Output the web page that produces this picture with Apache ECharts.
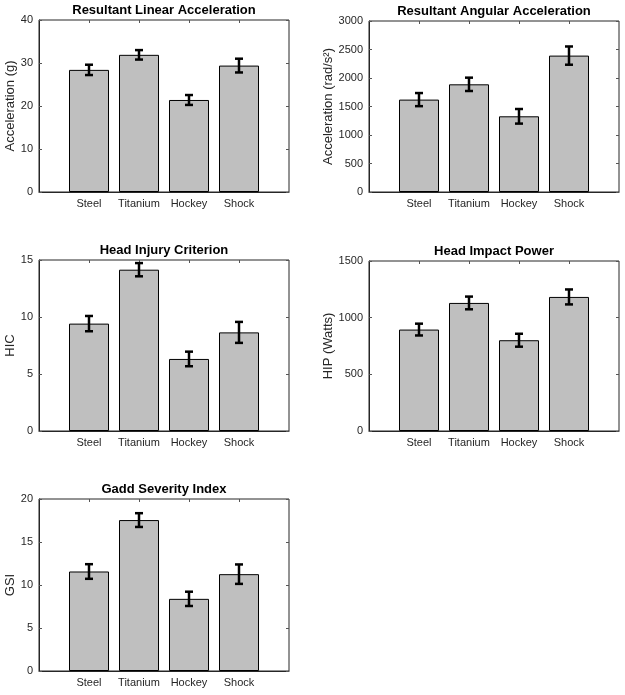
<!DOCTYPE html>
<html>
<head>
<meta charset="utf-8">
<script src="https://cdn.jsdelivr.net/npm/echarts@6/dist/echarts.min.js"></script>
<style>
html, body { margin: 0; padding: 0; background: #fff; }
#chart { width: 625px; height: 695px; }
</style>
</head>
<body>
<div id="chart"></div>
<script>
// categories and values
var categories = ['Steel', 'Titanium', 'Hockey', 'Shock'];
var catPos = [1, 2, 3, 4];

var linearMean = [28.4, 31.9, 21.4, 29.4];
var linearErr = [1.2, 1.1, 1.15, 1.6];

var angularMean = [1621, 1889, 1328, 2393];
var angularErr = [115, 117, 128, 160];

var hicMean = [9.42, 14.15, 6.32, 8.65];
var hicErr = [0.67, 0.58, 0.64, 0.92];

var hipMean = [895, 1130, 801, 1183];
var hipErr = [52, 56, 57, 66];

var gsiMean = [11.57, 17.55, 8.39, 11.26];
var gsiErr = [0.85, 0.8, 0.83, 1.13];

var panels = [
  { title: 'Resultant Linear Acceleration', yName: 'Acceleration (g)', mean: linearMean, err: linearErr, max: 40, step: 10,
    left: 39, top: 20, width: 250, height: 172, nameGap: 22 },
  { title: 'Resultant Angular Acceleration', yName: 'Acceleration (rad/s\u00b2)', mean: angularMean, err: angularErr, max: 3000, step: 500,
    left: 369, top: 21, width: 250, height: 171, nameGap: 30 },
  { title: 'Head Injury Criterion', yName: 'HIC', mean: hicMean, err: hicErr, max: 15, step: 5,
    left: 39, top: 260, width: 250, height: 171, nameGap: 22 },
  { title: 'Head Impact Power', yName: 'HIP (Watts)', mean: hipMean, err: hipErr, max: 1500, step: 500,
    left: 369, top: 261, width: 250, height: 170, nameGap: 30 },
  { title: 'Gadd Severity Index', yName: 'GSI', mean: gsiMean, err: gsiErr, max: 20, step: 5,
    left: 39, top: 499, width: 250, height: 172, nameGap: 22 }
];

var myChart = echarts.init(document.getElementById('chart'));

var fontFam = '"Liberation Sans", Arial, sans-serif';
var ink = '#262626';
var tickCol = '#555';

var grid = [], xAxis = [], yAxis = [], title = [], series = [];

panels.forEach(function (p, i) {
  grid.push({ left: p.left, top: p.top, width: p.width, height: p.height, show: true,
    borderColor: ink, borderWidth: 1, backgroundColor: '#fff' });
  title.push({ text: p.title, left: p.left + p.width / 2, top: p.top - 16, textAlign: 'center', padding: 0,
    textStyle: { fontFamily: fontFam, fontSize: 13, fontWeight: 'bold', color: '#000' } });

  // bottom and top x axes
  xAxis.push({ type: 'value', gridIndex: i, min: 0, max: 5, interval: 1, position: 'bottom',
    axisLine: { show: true, onZero: false, lineStyle: { color: ink } },
    axisTick: { inside: true, length: 3, customValues: catPos, lineStyle: { color: tickCol } },
    splitLine: { show: false },
    axisLabel: { color: ink, fontFamily: fontFam, fontSize: 11, margin: 6, customValues: catPos,
      formatter: function (v) { return categories[v - 1] || ''; } } });
  xAxis.push({ type: 'value', gridIndex: i, min: 0, max: 5, interval: 1, position: 'top',
    axisLine: { show: false, onZero: false }, axisLabel: { show: false }, splitLine: { show: false },
    axisTick: { inside: true, length: 3, customValues: catPos, lineStyle: { color: tickCol } } });

  // left and right y axes
  yAxis.push({ type: 'value', gridIndex: i, min: 0, max: p.max, interval: p.step, position: 'left',
    name: p.yName, nameLocation: 'middle', nameGap: p.nameGap,
    nameTextStyle: { color: ink, fontFamily: fontFam, fontSize: 13 },
    axisLine: { show: true, onZero: false, lineStyle: { color: ink } },
    axisTick: { inside: true, length: 3, lineStyle: { color: tickCol } },
    splitLine: { show: false },
    axisLabel: { color: ink, fontFamily: fontFam, fontSize: 11, margin: 6,
      formatter: function (v) { return String(v); } } });
  yAxis.push({ type: 'value', gridIndex: i, min: 0, max: p.max, interval: p.step, position: 'right',
    axisLine: { show: false, onZero: false }, axisLabel: { show: false }, splitLine: { show: false },
    axisTick: { inside: true, length: 3, lineStyle: { color: tickCol } } });

  series.push({
    type: 'bar', xAxisIndex: 2 * i, yAxisIndex: 2 * i, barWidth: 40,
    itemStyle: { color: '#bfbfbf', borderColor: '#000', borderWidth: 1 },
    data: p.mean.map(function (m, k) { return [catPos[k], m]; }),
    silent: true
  });
  series.push({
    type: 'custom', xAxisIndex: 2 * i, yAxisIndex: 2 * i, z: 5,
    data: p.mean.map(function (m, k) { return [catPos[k], m - p.err[k], m + p.err[k]]; }),
    renderItem: function (params, api) {
      var lo = api.coord([api.value(0), api.value(1)]);
      var hi = api.coord([api.value(0), api.value(2)]);
      var w = 4;
      var st = { stroke: '#000', lineWidth: 2.5 };
      return { type: 'group', children: [
        { type: 'line', shape: { x1: lo[0], y1: lo[1], x2: hi[0], y2: hi[1] }, style: st },
        { type: 'line', shape: { x1: lo[0] - w, y1: lo[1], x2: lo[0] + w, y2: lo[1] }, style: st },
        { type: 'line', shape: { x1: hi[0] - w, y1: hi[1], x2: hi[0] + w, y2: hi[1] }, style: st }
      ] };
    },
    silent: true
  });
});

var option = {
  backgroundColor: '#fff',
  animation: false,
  title: title,
  grid: grid,
  xAxis: xAxis,
  yAxis: yAxis,
  series: series
};

myChart.setOption(option);
</script>
</body>
</html>
